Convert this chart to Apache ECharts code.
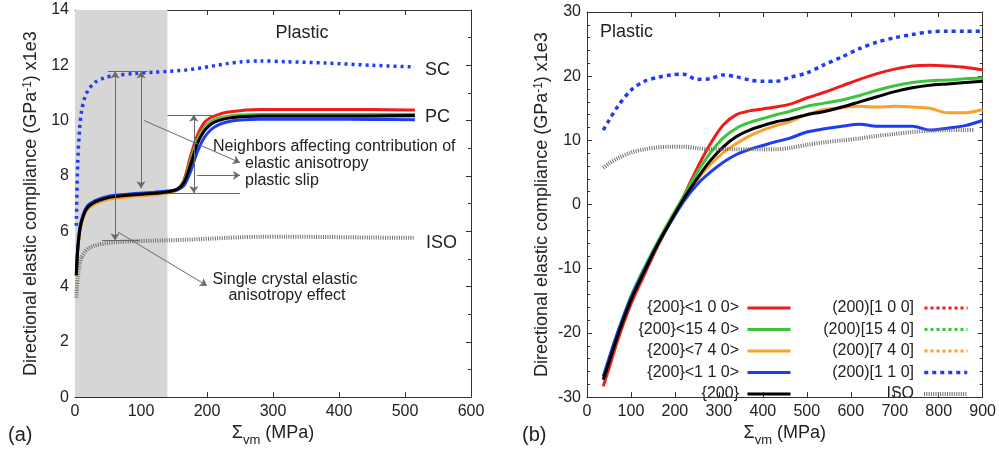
<!DOCTYPE html>
<html>
<head>
<meta charset="utf-8">
<script src="https://cdn.jsdelivr.net/npm/echarts@6/dist/echarts.min.js"></script>
<style>
    html, body { margin: 0; padding: 0; background: #fff; }
    #chart { width: 999px; height: 452px; }
</style>
</head>
<body>
<div id="chart"></div>
<script>
// ---- panel (a): whole loading curve ----
const xA = [2, 4, 7, 10, 15, 20, 30, 45, 60, 90, 120, 140, 155, 165, 175, 185, 195, 205, 215, 230, 250, 280, 320, 380, 450, 515];
const aSC = [6.2, 8.4, 9.7, 10.35, 10.85, 11.1, 11.38, 11.55, 11.63, 11.7, 11.75, 11.78, 11.8, 11.82, 11.85, 11.88, 11.92, 11.96, 12.0, 12.06, 12.12, 12.16, 12.13, 12.08, 12.0, 11.94];
const aISO = [3.6, 4.3, 4.8, 5.05, 5.25, 5.37, 5.48, 5.56, 5.6, 5.64, 5.66, 5.67, 5.68, 5.69, 5.7, 5.71, 5.72, 5.73, 5.74, 5.76, 5.78, 5.8, 5.8, 5.79, 5.77, 5.76];
const aRed = [4.4, 5.3, 6.0, 6.35, 6.7, 6.88, 7.05, 7.18, 7.25, 7.32, 7.37, 7.42, 7.52, 7.85, 8.7, 9.45, 9.9, 10.1, 10.2, 10.3, 10.36, 10.4, 10.4, 10.4, 10.4, 10.38];
const aGreen = [4.4, 5.3, 6.0, 6.35, 6.7, 6.9, 7.07, 7.2, 7.27, 7.34, 7.39, 7.44, 7.52, 7.8, 8.55, 9.3, 9.72, 9.95, 10.07, 10.15, 10.2, 10.22, 10.22, 10.22, 10.22, 10.22];
const aOrange = [4.35, 5.25, 5.95, 6.3, 6.64, 6.82, 6.99, 7.12, 7.19, 7.26, 7.32, 7.37, 7.48, 7.72, 8.45, 9.2, 9.65, 9.88, 10.0, 10.1, 10.14, 10.16, 10.16, 10.16, 10.16, 10.16];
const aBlue = [4.5, 5.4, 6.1, 6.42, 6.76, 6.94, 7.1, 7.23, 7.3, 7.36, 7.41, 7.45, 7.5, 7.65, 8.15, 8.85, 9.35, 9.65, 9.82, 9.95, 10.02, 10.05, 10.05, 10.05, 10.04, 10.03];
const aBlack = [4.4, 5.3, 6.0, 6.35, 6.7, 6.88, 7.05, 7.18, 7.25, 7.32, 7.37, 7.42, 7.52, 7.75, 8.4, 9.15, 9.6, 9.85, 9.98, 10.08, 10.14, 10.17, 10.17, 10.17, 10.17, 10.18];
const elasticEnd = 140;

// ---- panel (b): plastic regime ----
const xB = [37, 50, 70, 100, 130, 160, 190, 220, 250, 280, 310, 340, 370, 400, 430, 460, 500, 540, 580, 620, 660, 700, 740, 780, 820, 860, 900];
const xIsoB = [37, 50, 70, 100, 130, 160, 190, 220, 250, 280, 310, 340, 370, 400, 430, 460, 500, 540, 580, 620, 660, 700, 740, 780, 820, 860, 880];
const bRed = [-28.3, -25.5, -21.1, -15.5, -11.0, -6.6, -2.6, 1.3, 5.6, 9.4, 12.4, 14.0, 14.6, 14.9, 15.2, 15.6, 16.6, 17.5, 18.5, 19.5, 20.4, 21.1, 21.6, 21.7, 21.6, 21.4, 21.0];
const bGreen = [-26.8, -24.0, -19.8, -14.3, -9.9, -5.9, -2.2, 1.3, 4.9, 8.0, 10.4, 11.9, 12.8, 13.4, 14.0, 14.5, 15.3, 15.8, 16.3, 17.0, 17.8, 18.5, 19.0, 19.3, 19.4, 19.6, 19.7];
const bOrange = [-27.2, -24.5, -20.3, -14.8, -10.4, -6.3, -2.6, 0.8, 3.8, 6.2, 8.1, 9.5, 10.7, 11.6, 12.3, 12.9, 14.0, 14.8, 15.1, 15.3, 15.2, 15.3, 15.2, 15.0, 14.3, 14.3, 14.8];
const bBlue = [-26.8, -24.0, -19.9, -14.5, -10.2, -6.3, -2.8, 0.5, 3.1, 5.0, 6.6, 7.8, 8.6, 9.2, 9.8, 10.3, 11.3, 11.8, 12.2, 12.5, 12.2, 12.2, 12.2, 11.6, 11.9, 12.3, 13.1];
const bBlack = [-27.3, -24.6, -20.4, -14.9, -10.5, -6.3, -2.6, 0.9, 4.0, 6.8, 9.0, 10.6, 11.6, 12.3, 12.9, 13.3, 14.0, 14.5, 15.2, 16.0, 16.8, 17.6, 18.2, 18.6, 18.8, 19.0, 19.2];
const bBlueDot = [11.6, 13.1, 15.3, 17.8, 19.2, 19.8, 20.2, 20.3, 19.5, 19.6, 20.2, 19.9, 19.4, 19.2, 19.2, 19.8, 20.5, 21.8, 23.0, 24.3, 25.3, 26.0, 26.5, 26.9, 27.0, 27.0, 27.0];
const bISO = [5.7, 6.4, 7.2, 8.1, 8.6, 8.9, 9.0, 9.0, 8.8, 8.6, 8.6, 8.6, 8.6, 8.6, 8.6, 8.8, 9.3, 9.7, 10.0, 10.3, 10.7, 11.0, 11.3, 11.5, 11.6, 11.6, 11.6];

const legendLeft = ['{200}<1 0 0>', '{200}<15 4 0>', '{200}<7 4 0>', '{200}<1 1 0>', '{200}'];
const legendRight = ['(200)[1 0 0]', '(200)[15 4 0]', '(200)[7 4 0]', '(200)[1 1 0]', 'ISO'];

const RED = '#f21b1b', GREEN = '#3cc43c', ORANGE = '#f8a22c', BLUE = '#1f3cf5', BLACK = '#000', GREY = '#707070';
const font = '"Liberation Sans", Arial, sans-serif';
const ISO_DASH = [1, 1.3];

function pairs(xs, ys) {
    return xs.map((x, i) => [x, ys[i]]);
}

function axis(extra) {
    return Object.assign({
        type: 'value',
        axisLine: {show: true, onZero: false, lineStyle: {color: '#333', width: 1}},
        axisTick: {show: true, inside: true, length: 5, lineStyle: {color: '#333'}},
        axisLabel: {fontSize: 16, color: '#222', fontFamily: font, margin: 6},
        splitLine: {show: false}
    }, extra);
}

function mirror(extra) {
    return axis(Object.assign({axisLabel: {show: false}}, extra));
}

function line(name, xs, ys, color, width, dash, xi, extra) {
    return Object.assign({
        name: name,
        type: 'line',
        xAxisIndex: xi,
        yAxisIndex: xi,
        data: pairs(xs, ys),
        symbol: 'none',
        smooth: 0.3,
        lineStyle: {color: color, width: width, type: dash || 'solid'},
        itemStyle: {color: color},
        emphasis: {disabled: true},
        z: 2
    }, extra);
}

const nameRich = {
    t: {fontSize: 18, fontFamily: font, color: '#222', lineHeight: 20, verticalAlign: 'top'},
    sup: {fontSize: 12, fontFamily: font, color: '#222', lineHeight: 12, verticalAlign: 'top'},
    sub: {fontSize: 13, fontFamily: font, color: '#222', lineHeight: 12, padding: [10, 0, 0, 0], verticalAlign: 'top'}
};
const yName = '{t|Directional elastic compliance (GPa}{sup|-1}{t|) x1e3}';
const xName = '{t|Σ}{sub|vm}{t| (MPa)}';

const arrowStyle = {color: '#6a6a6a', width: 1, type: 'solid'};
function seg(p1, p2, s1, s2) {
    return [{coord: p1, symbol: s1 || 'none'}, {coord: p2, symbol: s2 || 'none'}];
}

const annotations = [
    seg([50, 11.78], [110, 11.78]),
    seg([60.6, 11.78], [60.6, 5.67], 'arrow', 'arrow'),
    seg([100, 11.78], [100, 7.55], 'arrow', 'arrow'),
    seg([41, 5.67], [98, 5.67]),
    seg([140, 10.21], [212, 10.21]),
    seg([140, 7.38], [250, 7.38]),
    seg([180, 10.21], [180, 7.38], 'arrow', 'arrow'),
    seg([185, 8.02], [250, 8.02], 'none', 'arrow'),
    seg([105, 10.0], [250, 8.48], 'none', 'arrow'),
    seg([65, 5.97], [200, 4.03], 'none', 'arrow')
];

function txt(text, x, y, size, align) {
    return {
        type: 'text', x: x, y: y, silent: true,
        style: {text: text, font: size + 'px ' + font, fill: '#222', textAlign: align || 'left', textVerticalAlign: 'middle'}
    };
}

// legend swatches from ECharts, one legend per row; the labels are drawn as right-aligned text
const rowCentres = [308, 329.5, 351, 372.5, 394];
function legendRow(name, right, row) {
    return {
        data: [name], orient: 'vertical', align: 'right', right: right, top: rowCentres[row] - 7,
        padding: 0, itemWidth: 43, itemHeight: 14, selectedMode: false,
        formatter: () => '',
        lineStyle: {width: 'inherit'},
        itemStyle: {opacity: 0},
        textStyle: {fontSize: 1, padding: 0}
    };
}
const legendText = legendLeft.map((n, i) => txt(n, 739, rowCentres[i], 16, 'right'))
    .concat(legendRight.map((n, i) => txt(n, 914, rowCentres[i], 16, 'right')));

const chart = echarts.init(document.getElementById('chart'));

chart.setOption({
    animation: false,
    backgroundColor: '#fff',
    grid: [
        {left: 75, top: 10, width: 396, height: 396},
        {left: 587, top: 12, width: 396, height: 396}
    ],
    xAxis: [
        axis({gridIndex: 0, min: 0, max: 600, interval: 100, position: 'bottom',
            name: xName, nameLocation: 'middle', nameGap: 19, nameTextStyle: {rich: nameRich}}),
        mirror({gridIndex: 0, min: 0, max: 600, interval: 100, position: 'top'}),
        axis({gridIndex: 1, min: 0, max: 900, interval: 100, position: 'bottom',
            name: xName, nameLocation: 'middle', nameGap: 19, nameTextStyle: {rich: nameRich}}),
        mirror({gridIndex: 1, min: 0, max: 900, interval: 100, position: 'top'})
    ],
    yAxis: [
        axis({gridIndex: 0, min: 0, max: 14, interval: 2, position: 'left',
            minorTick: {show: true, splitNumber: 2, length: 3},
            name: yName, nameLocation: 'middle', nameRotate: 90, nameGap: 33, nameTextStyle: {rich: nameRich}}),
        mirror({gridIndex: 0, min: 0, max: 14, interval: 2, position: 'right',
            minorTick: {show: true, splitNumber: 2, length: 3}}),
        axis({gridIndex: 1, min: -30, max: 30, interval: 10, position: 'left',
            minorTick: {show: true, splitNumber: 5, length: 3},
            name: yName, nameLocation: 'middle', nameRotate: 90, nameGap: 34, nameTextStyle: {rich: nameRich}}),
        mirror({gridIndex: 1, min: -30, max: 30, interval: 10, position: 'right',
            minorTick: {show: true, splitNumber: 5, length: 3}})
    ],
    legend: legendLeft.map((n, i) => legendRow(n, 207, i))
        .concat(legendRight.map((n, i) => legendRow(n, 30, i))),
    graphic: [
        txt('Elastic', 117, 33, 18, 'center'),
        txt('Plastic', 302, 33, 18, 'center'),
        txt('SC', 425, 70, 18),
        txt('PC', 425, 117, 18),
        txt('ISO', 426, 243, 18),
        txt('Neighbors affecting contribution of', 213, 147, 16),
        txt('elastic anisotropy', 245, 164, 16),
        txt('plastic slip', 245, 181, 16),
        txt('Single crystal elastic', 285, 280, 16, 'center'),
        txt('anisotropy effect', 287, 296, 16, 'center'),
        txt('(a)', 8, 435, 20),
        txt('(b)', 522, 435, 20),
        txt('Plastic', 600, 32, 18)
    ].concat(legendText),
    series: [
        line('a SC', xA, aSC, BLUE, 3.5, [3, 4], 0, {
            markArea: {
                silent: true,
                itemStyle: {color: '#d6d6d6'},
                data: [[{xAxis: 0}, {xAxis: elasticEnd}]]
            }
        }),
        line('a ISO', xA, aISO, GREY, 4, ISO_DASH, 0),
        line('a red', xA, aRed, RED, 3, null, 0),
        line('a green', xA, aGreen, GREEN, 3, null, 0),
        line('a orange', xA, aOrange, ORANGE, 3, null, 0),
        line('a blue', xA, aBlue, BLUE, 3, null, 0),
        line('a black', xA, aBlack, BLACK, 3, null, 0, {
            markLine: {
                silent: true,
                symbol: ['none', 'none'],
                symbolSize: 7,
                label: {show: false},
                lineStyle: arrowStyle,
                data: annotations
            }
        }),

        line(legendLeft[0], xB, bRed, RED, 3, null, 2),
        line(legendLeft[1], xB, bGreen, GREEN, 3, null, 2),
        line(legendLeft[2], xB, bOrange, ORANGE, 3, null, 2),
        line(legendLeft[3], xB, bBlue, BLUE, 3, null, 2),
        line(legendLeft[4], xB, bBlack, BLACK, 3, null, 2),
        line(legendRight[0], [], [], RED, 3, [3, 3], 2),
        line(legendRight[1], [], [], GREEN, 3, [3, 3], 2),
        line(legendRight[2], [], [], ORANGE, 3, [3, 3], 2),
        line(legendRight[3], xB, bBlueDot, BLUE, 3.5, [4, 4], 2),
        line(legendRight[4], xIsoB, bISO, GREY, 4, ISO_DASH, 2)
    ]
});

window.addEventListener('resize', () => chart.resize());
</script>
</body>
</html>
